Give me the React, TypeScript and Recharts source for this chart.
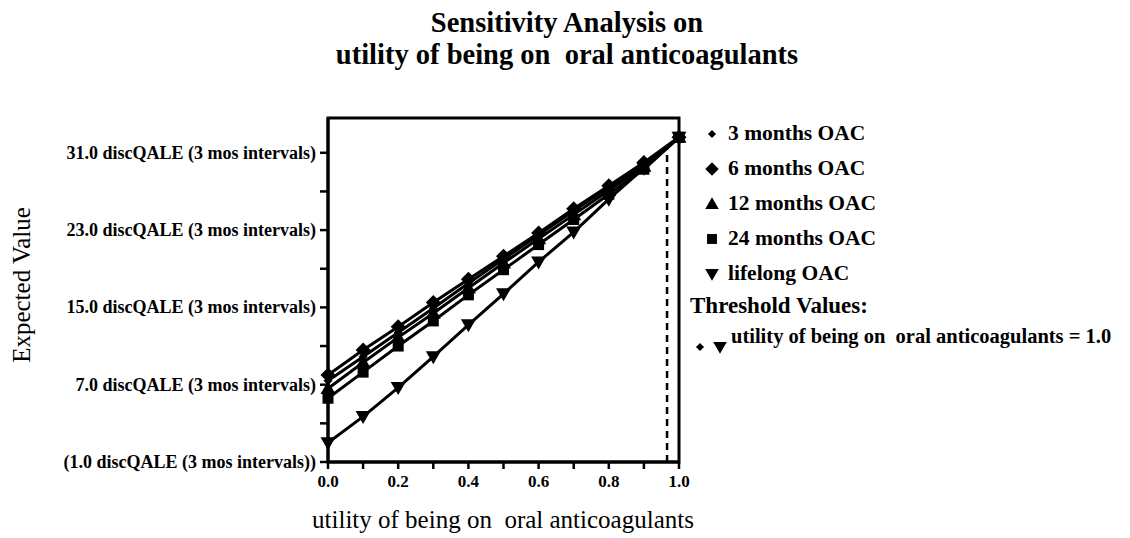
import React from "react";
import { LineChart, Line, XAxis, YAxis, ReferenceLine, ReferenceArea } from "recharts";

// utility of being on oral anticoagulants
const utilities = [0, 0.1, 0.2, 0.3, 0.4, 0.5, 0.6, 0.7, 0.8, 0.9, 1.0];

// expected value (discQALE, 3 mos intervals)
const oac3 = [7.4, 9.9, 12.4, 14.9, 17.5, 20.0, 22.5, 25.0, 27.4, 29.9, 32.6];
const oac6 = [8.0, 10.6, 13.0, 15.5, 17.9, 20.3, 22.7, 25.2, 27.6, 30.0, 32.6];
const oac12 = [6.6, 9.3, 11.9, 14.4, 17.0, 19.6, 22.1, 24.6, 27.1, 29.6, 32.6];
const oac24 = [5.6, 8.3, 11.0, 13.6, 16.3, 18.9, 21.5, 24.1, 26.7, 29.3, 32.6];
const lifelong = [1.0, 3.7, 6.7, 9.9, 13.2, 16.4, 19.7, 22.8, 26.2, 29.4, 32.6];

const xTicks = [0, 0.1, 0.2, 0.3, 0.4, 0.5, 0.6, 0.7, 0.8, 0.9, 1.0];
const xLabelled = [0, 0.2, 0.4, 0.6, 0.8, 1.0];
const yTicks = [-1, 3, 7, 11, 15, 19, 23, 27, 31];
const yLabelled = [-1, 7, 15, 23, 31];

const threshold = 0.966;
const Y_MAX = 34.6;

const data = utilities.map((u, i) => ({
  u,
  m3: oac3[i],
  m6: oac6[i],
  m12: oac12[i],
  m24: oac24[i],
  life: lifelong[i],
}));

const SERIF = "'Liberation Serif', 'DejaVu Serif', serif";

type Shape = "smallDiamond" | "diamond" | "up" | "square" | "down";

const marker = (shape: Shape, cx: number, cy: number, k = 1) => {
  switch (shape) {
    case "smallDiamond":
      return <path d={`M${cx},${cy - 4.5 * k}L${cx + 4.5 * k},${cy}L${cx},${cy + 4.5 * k}L${cx - 4.5 * k},${cy}Z`} fill="#000" />;
    case "diamond":
      return <path d={`M${cx},${cy - 7.5 * k}L${cx + 7.5 * k},${cy}L${cx},${cy + 7.5 * k}L${cx - 7.5 * k},${cy}Z`} fill="#000" />;
    case "up":
      return <path d={`M${cx},${cy - 7.5 * k}L${cx + 7.5 * k},${cy + 5.5 * k}L${cx - 7.5 * k},${cy + 5.5 * k}Z`} fill="#000" />;
    case "square":
      return <rect x={cx - 5.5 * k} y={cy - 5.5 * k} width={11 * k} height={11 * k} fill="#000" />;
    case "down":
      return <path d={`M${cx - 7.5 * k},${cy - 5.5 * k}L${cx + 7.5 * k},${cy - 5.5 * k}L${cx},${cy + 7.5 * k}Z`} fill="#000" />;
  }
};

const dotFor = (shape: Shape) => (p: any) => (
  <g key={`${shape}-${p.index}`}>{marker(shape, p.cx, p.cy)}</g>
);

const series: { key: string; name: string; shape: Shape }[] = [
  { key: "m3", name: "3 months OAC", shape: "smallDiamond" },
  { key: "m6", name: "6 months OAC", shape: "diamond" },
  { key: "m12", name: "12 months OAC", shape: "up" },
  { key: "m24", name: "24 months OAC", shape: "square" },
  { key: "life", name: "lifelong OAC", shape: "down" },
];

const fmtY = (v: number) => {
  const s = `${Math.abs(v).toFixed(1)} discQALE (3 mos intervals)`;
  return v < 0 ? `(${s})` : s;
};

const YTick = (props: any) => {
  const v = props.payload.value;
  if (!yLabelled.includes(v)) return <g />;
  return (
    <text x={props.x} y={props.y} dy={6} textAnchor="end" fontFamily={SERIF} fontWeight="bold" fontSize={18} fill="#000">
      {fmtY(v)}
    </text>
  );
};

const XTick = (props: any) => {
  const v = props.payload.value;
  if (!xLabelled.some((t) => Math.abs(t - v) < 1e-6)) return <g />;
  return (
    <text x={props.x} y={props.y} dy={14} textAnchor="middle" fontFamily={SERIF} fontWeight="bold" fontSize={17} fill="#000">
      {v.toFixed(1)}
    </text>
  );
};

const LegendBox = () => (
  <div style={{ position: "absolute", left: 703, top: 116, fontFamily: SERIF, color: "#000" }}>
    {series.map((s) => (
      <div key={s.key} style={{ display: "flex", alignItems: "center", height: 35, fontSize: 21.5, fontWeight: "bold", whiteSpace: "nowrap" }}>
        <svg width={18} height={18} style={{ marginRight: 7 }}>
          {marker(s.shape, 9, 9, 0.9)}
        </svg>
        {s.name}
      </div>
    ))}
    <div style={{ fontSize: 23, fontWeight: "bold", marginLeft: -13, marginTop: 2, whiteSpace: "nowrap" }}>Threshold Values:</div>
    <div style={{ display: "flex", alignItems: "flex-start", marginLeft: -10, marginTop: 6, whiteSpace: "nowrap" }}>
      <svg width={38} height={32}>
        {marker("smallDiamond", 7, 22, 0.9)}
        {marker("down", 27, 22, 0.9)}
      </svg>
      <span style={{ fontSize: 20.5, fontWeight: "bold" }}>utility of being on&nbsp; oral anticoagulants = 1.0</span>
    </div>
  </div>
);

export default function App() {
  return (
    <div style={{ position: "absolute", left: 0, top: 0, width: 1130, height: 538, background: "#fff", overflow: "hidden" }}>
      <div
        style={{
          position: "absolute",
          left: 0,
          width: 1134,
          top: 7,
          textAlign: "center",
          fontFamily: SERIF,
          fontWeight: "bold",
          fontSize: 28.5,
          lineHeight: "32px",
          color: "#000",
        }}
      >
        <div>Sensitivity Analysis on</div>
        <div>utility of being on&nbsp; oral anticoagulants</div>
      </div>
      <div
        style={{
          position: "absolute",
          left: 22,
          top: 285,
          transform: "translate(-50%, -50%) rotate(-90deg)",
          fontFamily: SERIF,
          fontSize: 25,
          whiteSpace: "nowrap",
          color: "#000",
        }}
      >
        Expected Value
      </div>
      <div
        style={{
          position: "absolute",
          left: 503,
          top: 506,
          transform: "translateX(-50%)",
          fontFamily: SERIF,
          fontSize: 25,
          whiteSpace: "nowrap",
          color: "#000",
        }}
      >
        utility of being on&nbsp; oral anticoagulants
      </div>
      <LineChart
        width={1130}
        height={538}
        data={data}
        margin={{ top: 118, right: 451, bottom: 0, left: 0 }}
      >
        <XAxis
          type="number"
          dataKey="u"
          domain={[0, 1]}
          ticks={xTicks}
          interval={0}
          height={76}
          tickSize={7}
          tickMargin={4}
          axisLine={{ stroke: "#000", strokeWidth: 3 }}
          tickLine={{ stroke: "#000", strokeWidth: 2.5 }}
          tick={<XTick />}
        />
        <YAxis
          type="number"
          domain={[-1, Y_MAX]}
          ticks={yTicks}
          interval={0}
          width={328}
          tickSize={8}
          tickMargin={4}
          axisLine={{ stroke: "#000", strokeWidth: 3 }}
          tickLine={{ stroke: "#000", strokeWidth: 2.5 }}
          tick={<YTick />}
        />
        <ReferenceArea x1={0} x2={1} y1={-1} y2={Y_MAX} fill="none" stroke="#000" strokeWidth={3} />
        <ReferenceLine
          segment={[
            { x: threshold, y: -1 },
            { x: threshold, y: 31.8 },
          ]}
          stroke="#000"
          strokeWidth={2.5}
          strokeDasharray="7 5"
        />
        {series.map((s) => (
          <Line
            key={s.key}
            type="linear"
            dataKey={s.key}
            name={s.name}
            stroke="#000"
            strokeWidth={3}
            dot={dotFor(s.shape)}
            activeDot={false}
            isAnimationActive={false}
          />
        ))}
      </LineChart>
      <LegendBox />
    </div>
  );
}
